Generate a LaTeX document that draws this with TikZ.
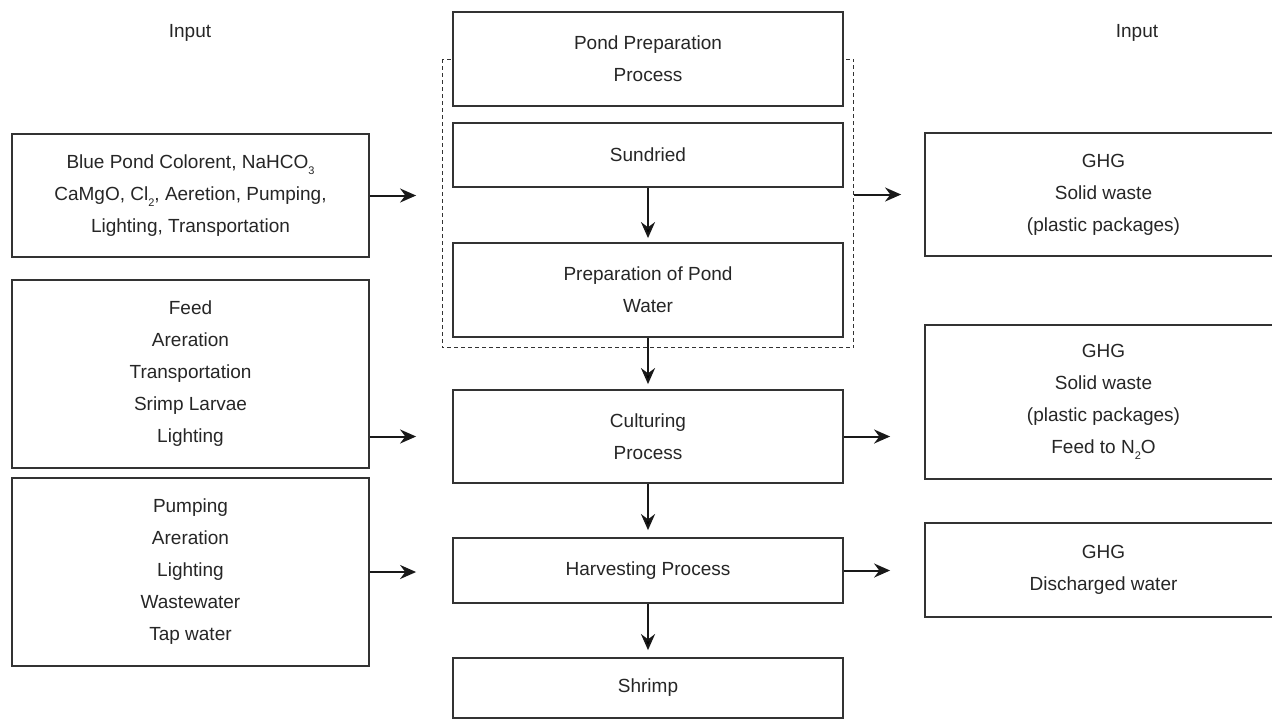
\documentclass[tikz,border=0pt]{standalone}
\usepackage{fontspec}
\setmainfont{Liberation Sans}
\usepackage{tikz}
\usetikzlibrary{positioning,arrows.meta,backgrounds}

\newcommand{\lowsub}[1]{\raisebox{-3.2pt}{\fontsize{5.5}{6}\selectfont #1}}

\tikzset{
  box/.style={draw=black!80, line width=0.9pt, fill=white, align=center, inner sep=0pt,
    font=\fontsize{9.5}{16}\selectfont, text=black!85},
  proc/.style={box, minimum width=195pt},
  inbox/.style={box, minimum width=178.5pt},
  outbox/.style={box, minimum width=178.5pt},
  lbl/.style={font=\fontsize{9.5}{16}\selectfont, text=black!85},
  flow/.style={-{Stealth[length=8pt,width=7pt]}, line width=1pt, draw=black!90},
  dashbox/.style={draw=black!80, line width=0.5pt, dash pattern=on 2pt off 1.5pt},
}

\begin{document}
\begin{tikzpicture}[x=1pt,y=1pt,on grid]
       \useasboundingbox (0,0) rectangle (636,-359.5);
       \node[lbl] (in_l) at (95,-16.5) {Input};
       \node[lbl] (in_r) at (568.5,-16.5) {Input};

       \node[proc, minimum height=47pt] (pond) at (324,-29.5) {Pond Preparation\\Process};
       \node[proc, minimum height=32pt] (sund) [below=48pt of pond] {Sundried};
       \node[proc, minimum height=47pt] (prep) [below=67.5pt of sund] {Preparation of Pond\\Water};
       \node[proc, minimum height=46.5pt] (cult) [below=73.25pt of prep] {Culturing\\Process};
       \node[proc, minimum height=32.5pt] (harv) [below=67pt of cult] {Harvesting Process};
       \node[proc, minimum height=30pt] (shrimp) [below=58.75pt of harv] {Shrimp};

       \node[inbox, minimum height=61.5pt] (in_1) at (95.25,-97.75)
            {Blue Pond Colorent, NaHCO\lowsub{3}\\CaMgO, Cl\lowsub{2}, Aeretion, Pumping,\\Lighting, Transportation};
       \node[inbox, minimum height=94pt] (in_2) [below=89.25pt of in_1]
            {Feed\\Areration\\Transportation\\Srimp Larvae\\Lighting};
       \node[inbox, minimum height=94pt] (in_3) [below=99pt of in_2]
            {Pumping\\Areration\\Lighting\\Wastewater\\Tap water};

       \node[outbox, minimum height=61.5pt] (out_1) at (551.75,-97.25)
            {GHG\\Solid waste\\(plastic packages)};
       \node[outbox, minimum height=77pt] (out_2) [below=103.75pt of out_1]
            {GHG\\Solid waste\\(plastic packages)\\Feed to N\lowsub{2}O};
       \node[outbox, minimum height=47pt] (out_3) [below=84pt of out_2]
            {GHG\\Discharged water};

       \coordinate (d_nw) at ([xshift=-5pt]pond.west);
       \coordinate (d_se) at ([xshift=5pt,yshift=-5pt]prep.south east);
       \begin{scope}[on background layer]
         \draw[dashbox] (d_nw) rectangle (d_se);
       \end{scope}

        \path[flow]
        	(sund)	edge [shorten >=2pt] (prep)
        	(prep)	edge [shorten >=2.5pt] (cult)
        	(cult)	edge [shorten >=3.5pt] (harv)
        	(harv)	edge [shorten >=3.5pt] (shrimp);
        \draw[flow, shorten >=13pt] (in_1.east) -- (in_1.east -| d_nw);
        \draw[flow, shorten >=11.5pt] (d_se |- out_1.west) -- (out_1.west);
        \draw[flow, shorten >=18pt] (in_2.east |- cult.west) -- (cult.west);
        \draw[flow, shorten >=18pt] (in_3.east) -- (in_3.east -| harv.west);
        \draw[flow, shorten >=17pt] (cult.east) -- (cult.east -| out_2.west);
        \draw[flow, shorten >=17pt] (harv.east) -- (harv.east -| out_3.west);
    \end{tikzpicture}
\end{document}
